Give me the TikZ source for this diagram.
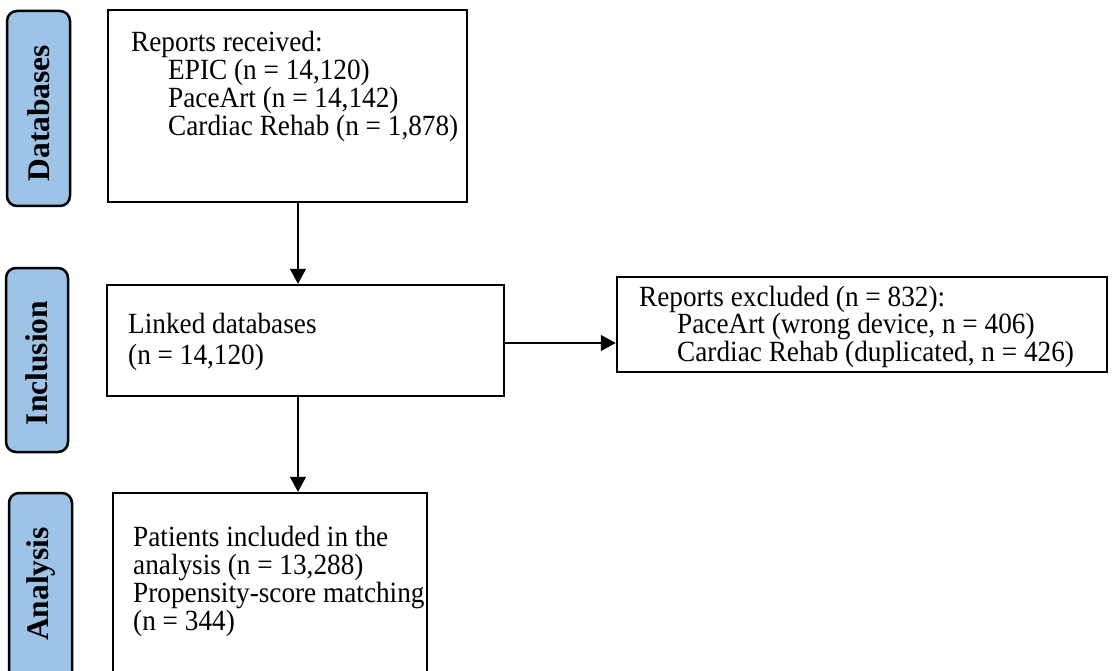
\documentclass[tikz,border=0pt]{standalone}
\usepackage{fontspec}
\setmainfont{Liberation Serif}
\newfontfamily\boxfont[FakeStretch=0.93]{Liberation Serif}
\usetikzlibrary{arrows.meta}
\definecolor{labblue}{RGB}{157,195,230}
\begin{document}
\begin{tikzpicture}[x=1pt,y=-1pt,
  box/.style={draw, line width=2.5pt, inner sep=0pt},
  lab/.style={draw, line width=2.5pt, rounded corners=10pt, fill=labblue, inner sep=0pt},
  labtxt/.style={rotate=90, inner sep=0pt, font=\fontsize{31.5}{31.5}\selectfont\bfseries},
  txt/.style={anchor=base west, inner sep=0pt, font=\boxfont\fontsize{29.3}{29.3}\selectfont},
  arr/.style={line width=1.3pt, -{Triangle[width=16pt,length=15pt]}}]
\useasboundingbox (0,0) rectangle (1119,671);
% side labels
\node[lab, minimum width=63pt, minimum height=195pt] (ldb) at (38.5,108.5) {};
\node[labtxt] (ldbt) at (38.5,113) {Databases};
\node[lab, minimum width=62pt, minimum height=184pt] (lin) at (37,360) {};
\node[labtxt] (lint) at (37,363) {Inclusion};
\node[lab, minimum width=63pt, minimum height=197pt] (lan) at (40.5,591.5) {};
\node[labtxt] (lant) at (40.5,584) {Analysis};
% boxes
\node[box, minimum width=359pt, minimum height=192pt] (b1) at (287.5,106) {};
\node[box, minimum width=397pt, minimum height=111pt] (b2) at (305.5,340.5) {};
\node[box, minimum width=490pt, minimum height=95pt] (b3) at (862,324.5) {};
\node[box, minimum width=314pt, minimum height=197pt] (b4) at (270,591.5) {};
% texts
\node[txt] (t11) at (131,52) {Reports received:};
\node[txt] (t12) at (168,80) {EPIC (n = 14,120)};
\node[txt] (t13) at (168,108) {PaceArt (n = 14,142)};
\node[txt] (t14) at (168,136) {Cardiac Rehab (n = 1,878)};
\node[txt] (t21) at (128,333) {Linked databases};
\node[txt] (t22) at (128,364) {(n = 14,120)};
\node[txt] (t31) at (639,306) {Reports excluded (n = 832):};
\node[txt] (t32) at (677,333) {PaceArt (wrong device, n = 406)};
\node[txt] (t33) at (677,361) {Cardiac Rehab (duplicated, n = 426)};
\node[txt] (t41) at (133,546) {Patients included in the};
\node[txt] (t42) at (133,574) {analysis (n = 13,288)};
\node[txt] (t43) at (133,602) {Propensity-score matching};
\node[txt] (t44) at (133,630) {(n = 344)};
% connectors
\coordinate (ax) at (298,0);
\draw[arr] (b1.south -| ax) -- (b2.north -| ax);
\draw[arr] (b2.south -| ax) -- (b4.north -| ax);
\draw[arr] ([yshift=-2.5pt]b2.east) -- ([yshift=-2.5pt]b2.east -| b3.west);
\end{tikzpicture}
\end{document}
